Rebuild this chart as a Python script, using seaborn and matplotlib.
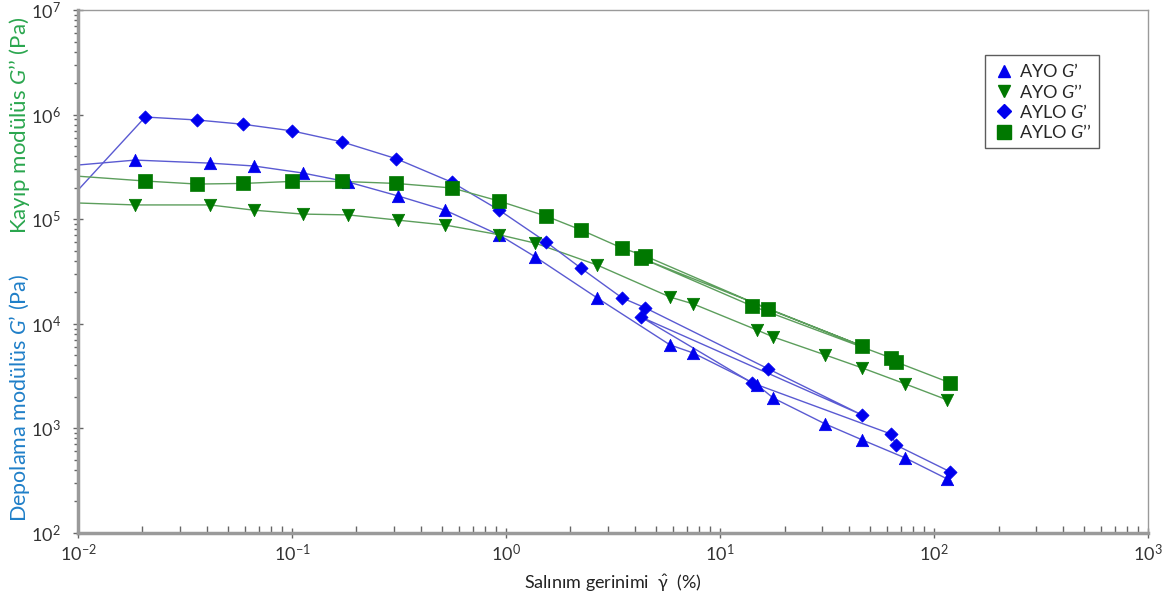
import numpy as np
import pandas as pd
import seaborn as sns
import matplotlib.pyplot as plt
import matplotlib.ticker as mticker
from matplotlib.lines import Line2D

# strain (%) and moduli (Pa)
ayo_x = [0.0185, 0.0414, 0.0664, 0.112, 0.183, 0.313, 0.519, 0.93, 1.37, 2.66,
         5.84, 7.48, 14.9, 17.7, 31.0, 46.1, 73.2, 115.0]
ayo_g1 = [3.68e5, 3.44e5, 3.23e5, 2.77e5, 2.27e5, 1.67e5, 1.22e5, 7.06e4, 4.36e4, 1.77e4,
          6270, 5260, 2600, 1950, 1100, 775, 521, 328]
ayo_g2 = [1.37e5, 1.37e5, 1.22e5, 1.12e5, 1.10e5, 9.8e4, 8.8e4, 7.1e4, 5.9e4, 3.65e4,
          1.8e4, 1.55e4, 8700, 7480, 5030, 3780, 2660, 1870]

# AYLO was swept twice at high strain, so the points are kept in measured order
aylo_x = [0.0206, 0.036, 0.059, 0.1, 0.171, 0.306, 0.56, 0.93, 1.54, 2.24,
          3.48, 4.47, 16.8, 46.1, 4.27, 14.1, 63.0, 66.4, 119.0]
aylo_g1 = [9.5e5, 8.9e5, 8.1e5, 7.0e5, 5.5e5, 3.8e5, 2.25e5, 1.22e5, 6.05e4, 3.4e4,
           1.77e4, 1.42e4, 3700, 1340, 1.16e4, 2720, 880, 690, 383]
aylo_g2 = [2.32e5, 2.17e5, 2.2e5, 2.3e5, 2.3e5, 2.2e5, 1.99e5, 1.49e5, 1.07e5, 7.9e4,
           5.3e4, 4.45e4, 1.38e4, 6130, 4.26e4, 1.48e4, 4710, 4310, 2720]

# value of each curve at the left edge (0.01 %), line only, no marker
start_x = 0.01
start_vals = {'AYO G1': 3.3e5, 'AYO G2': 1.43e5, 'AYLO G1': 1.9e5, 'AYLO G2': 2.58e5}

series = [
    ('AYO G1', ayo_x, ayo_g1, '^', '#0000ee', '#5a5ad2', 80, 'AYO $\\mathit{G}$’'),
    ('AYO G2', ayo_x, ayo_g2, 'v', '#007800', '#5c9e5c', 80, 'AYO $\\mathit{G}$’’'),
    ('AYLO G1', aylo_x, aylo_g1, 'D', '#0000ee', '#5a5ad2', 45, 'AYLO $\\mathit{G}$’'),
    ('AYLO G2', aylo_x, aylo_g2, 's', '#007800', '#5c9e5c', 95, 'AYLO $\\mathit{G}$’’'),
]

sns.set_style('white')
plt.rcParams['font.family'] = ['Lato', 'DejaVu Sans']
plt.rcParams['mathtext.fontset'] = 'custom'
plt.rcParams['mathtext.rm'] = 'Lato'
plt.rcParams['mathtext.it'] = 'Lato:italic'
plt.rcParams['mathtext.default'] = 'regular'
plt.rcParams['xtick.labelsize'] = 13
plt.rcParams['ytick.labelsize'] = 13

fig, ax = plt.subplots(figsize=(11.68, 5.98), dpi=100)
fig.subplots_adjust(left=0.0668, right=0.983, top=0.983, bottom=0.109)

handles = []
for name, xs, ys, mk, mcol, lcol, size, label in series:
    line_df = pd.DataFrame({'x': [start_x] + xs, 'y': [start_vals[name]] + ys})
    sns.lineplot(data=line_df, x='x', y='y', sort=False, estimator=None,
                 color=lcol, lw=1.0, ax=ax, zorder=2)
for name, xs, ys, mk, mcol, lcol, size, label in series:
    pts = pd.DataFrame({'x': xs, 'y': ys})
    sns.scatterplot(data=pts, x='x', y='y', marker=mk, color=mcol, s=size,
                    edgecolor=mcol, linewidth=0.5, ax=ax, zorder=3)
    handles.append(Line2D([], [], ls='none', marker=mk, color=mcol,
                          markersize=np.sqrt(size) * (1.0 if mk != 'D' else 1.1),
                          label=label))

ax.set_xscale('log')
ax.set_yscale('log')
ax.set_xlim(1e-2, 1e3)
ax.set_ylim(1e2, 1e7)

ax.xaxis.set_major_locator(mticker.LogLocator(base=10, numticks=10))
ax.yaxis.set_major_locator(mticker.LogLocator(base=10, numticks=10))
ax.xaxis.set_minor_locator(mticker.LogLocator(base=10, subs=np.arange(2, 10), numticks=50))
ax.yaxis.set_minor_locator(mticker.LogLocator(base=10, subs=np.arange(2, 10), numticks=50))
ax.xaxis.set_minor_formatter(mticker.NullFormatter())
ax.yaxis.set_minor_formatter(mticker.NullFormatter())

ax.tick_params(which='major', direction='inout', length=7, width=1, color='#666666',
               labelsize=13, labelcolor='#333333', bottom=True, left=True)
ax.tick_params(axis='y', which='major', pad=9)
ax.tick_params(axis='x', which='minor', direction='in', length=5, width=1,
               color='#666666', bottom=True)
ax.tick_params(axis='y', which='minor', direction='out', length=3, width=1,
               color='#666666', left=True)

for side in ['left', 'bottom']:
    ax.spines[side].set_color('#9a9a9a')
    ax.spines[side].set_linewidth(2.5)
for side in ['top', 'right']:
    ax.spines[side].set_color('#9a9a9a')
    ax.spines[side].set_linewidth(1.0)

ax.set_xlabel('Salınım gerinimi  $\\hat{\\gamma}$  (%)', fontsize=13, color='#222222', labelpad=6)
ax.set_ylabel('')

fig.text(0.017, 0.79, 'Kayıp modülüs $\\mathit{G}$’’ (Pa)', rotation=90, color='#2aa64e',
         fontsize=16, ha='center', va='center')
fig.text(0.017, 0.335, 'Depolama modülüs $\\mathit{G}$’ (Pa)', rotation=90, color='#1f7fc8',
         fontsize=15.5, ha='center', va='center')

leg = ax.legend(handles=handles, loc='upper left', bbox_to_anchor=(0.848, 0.914),
                fontsize=13, frameon=True, fancybox=False, edgecolor='#333333',
                labelspacing=0.12, handletextpad=0.25, handlelength=1.2, borderpad=0.4,
                borderaxespad=0)
leg.get_frame().set_linewidth(1.0)

plt.savefig('out.png', dpi=100)
